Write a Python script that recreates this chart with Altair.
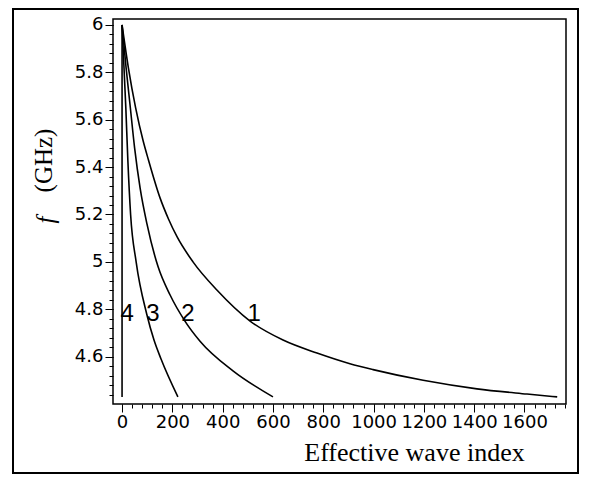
import altair as alt
import pandas as pd

# ---- data ----
c1_v = [0, 25, 54, 84, 105, 151, 185, 219, 282, 378, 509, 640, 775, 906, 998, 1197, 1411, 1610, 1730]
c1_f = [6.0, 5.82, 5.65, 5.51, 5.43, 5.27, 5.18, 5.105, 5.0, 4.88, 4.75, 4.67, 4.615, 4.57, 4.545, 4.50, 4.464, 4.442, 4.43]
c2_v = [0, 16, 32, 50, 72, 99, 143, 191, 250, 310, 441, 600]
c2_f = [6.0, 5.82, 5.66, 5.48, 5.31, 5.16, 4.98, 4.86, 4.75, 4.665, 4.54, 4.43]
c3_v = [0, 15, 23, 34, 56, 98, 127, 155, 222]
c3_f = [6.0, 5.65, 5.43, 5.2, 5.0, 4.78, 4.67, 4.59, 4.43]
c4_v = [0, 0]
c4_f = [4.43, 6.0]

lab_text = ["1", "2", "3", "4"]
lab_v = [525, 262, 123, 20]
lab_f = [4.78, 4.78, 4.78, 4.78]

x_major = [0, 200, 400, 600, 800, 1000, 1200, 1400, 1600]
x_minor = [i * 40 for i in range(0, 45)]
y_major = [4.6, 4.8, 5.0, 5.2, 5.4, 5.6, 5.8, 6.0]
y_minor = [round(4.44 + i * 0.04, 2) for i in range(0, 40)]

rows = []
for name, vs, fs in [("1", c1_v, c1_f), ("2", c2_v, c2_f), ("3", c3_v, c3_f)]:
    for i, (v, f) in enumerate(zip(vs, fs)):
        rows.append({"curve": name, "v": v, "f": f, "i": i})
curves = pd.DataFrame(rows)
vert = pd.DataFrame({"curve": "4", "v": c4_v, "f": c4_f, "i": [0, 1]})
labels = pd.DataFrame({"t": lab_text, "v": lab_v, "f": lab_f})
one = pd.DataFrame({"a": [0]})

xscale = alt.Scale(domain=[-36, 1765], nice=False, zero=False)
yscale = alt.Scale(domain=[4.40, 6.025], nice=False, zero=False)

tickfont = "DejaVu Sans"

x_major_axis = alt.Axis(orient="bottom", values=x_major, format="d", labelOverlap=False, tickSize=8,
                        labelFont=tickfont, labelFontSize=18, labelPadding=1,
                        labelColor="black", tickColor="black", domain=False, grid=False,
                        title="Effective wave index", titleFont="Liberation Serif",
                        titleFontSize=26, titleFontWeight="normal", titleColor="black",
                        titleX=301, titleY=56, titleAlign="center", titleBaseline="alphabetic")
y_major_axis = alt.Axis(orient="left", values=y_major, format="~g", labelOverlap=False, tickSize=8,
                        labelFont=tickfont, labelFontSize=18, labelPadding=2,
                        labelColor="black", tickColor="black", domain=False, grid=False,
                        title="(GHz)", titleFont="Liberation Serif", titleFontSize=25,
                        titleFontWeight="normal", titleColor="black", titleAngle=270,
                        titleX=-70, titleY=141, titleAlign="center", titleBaseline="middle")
x_minor_axis = alt.Axis(orient="bottom", values=x_minor, labels=False, tickSize=4, tickColor="black",
                        domain=False, grid=False, title=None)
y_minor_axis = alt.Axis(orient="left", values=y_minor, labels=False, tickSize=4, tickColor="black",
                        domain=False, grid=False, title=None)

minor_layer = alt.Chart(curves).mark_line(color="black", strokeWidth=1.6, interpolate="monotone").encode(
    x=alt.X("v:Q", scale=xscale, axis=x_minor_axis),
    y=alt.Y("f:Q", scale=yscale, axis=y_minor_axis),
    detail="curve:N",
    order="i:Q",
)

major_layer = alt.Chart(vert).mark_line(color="black", strokeWidth=1.6).encode(
    x=alt.X("v:Q", scale=xscale, axis=x_major_axis),
    y=alt.Y("f:Q", scale=yscale, axis=y_major_axis),
    order="i:Q",
)

label_layer = alt.Chart(labels).mark_text(font="Liberation Sans", fontSize=24, color="black",
                                          align="center", baseline="middle").encode(
    x=alt.X("v:Q", scale=xscale, axis=None),
    y=alt.Y("f:Q", scale=yscale, axis=None),
    text="t:N",
)

f_layer = alt.Chart(one).mark_text(text="f", font="Liberation Serif", fontStyle="italic",
                                   fontSize=25, color="black", angle=270,
                                   align="center", baseline="middle").encode(
    x=alt.value(-67), y=alt.value(201)
)

frame_layer = alt.Chart(one).mark_rect(fill=None, stroke="black", strokeWidth=2).encode(
    x=alt.value(-100), x2=alt.value(465), y=alt.value(-10), y2=alt.value(454)
)

chart = alt.layer(minor_layer, major_layer, label_layer, f_layer, frame_layer).resolve_axis(
    x="independent", y="independent"
).properties(
    width=453, height=385,
    padding={"left": 105, "top": 11, "right": 18, "bottom": 71},
    autosize=alt.AutoSizeParams(type="none"),
    background="white",
).configure_view(stroke="black", strokeWidth=1.5)

chart.save("out.html", embed_options={"renderer": "svg", "actions": False})
